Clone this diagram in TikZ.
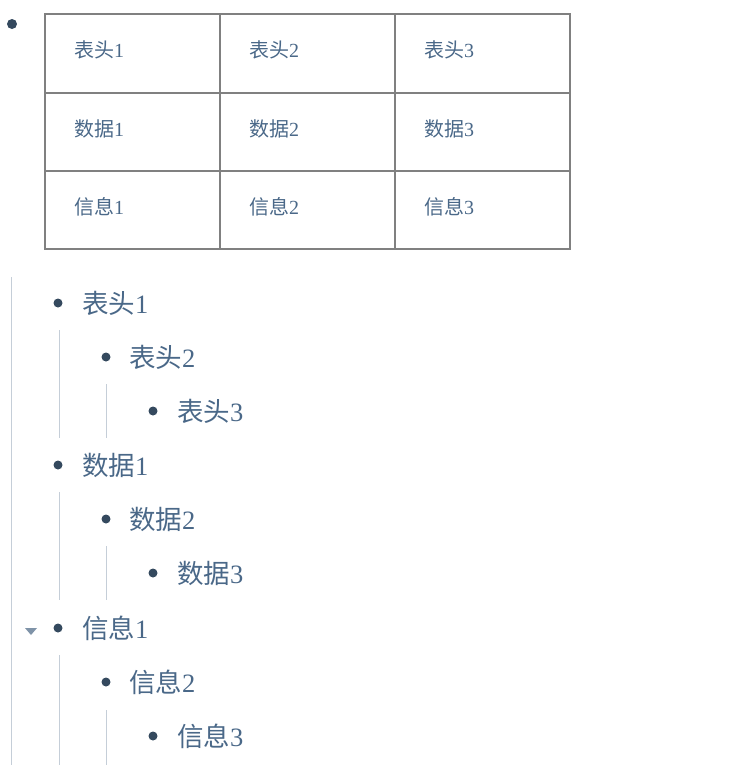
\documentclass[tikz,border=0pt]{standalone}
\usepackage{fontspec}
\newfontfamily\cjk{Noto Sans CJK SC}
\newfontfamily\numf{Liberation Serif}
\definecolor{txt}{HTML}{4A6888}
\definecolor{bul}{HTML}{34495E}
\definecolor{grid}{HTML}{808080}
\definecolor{guide}{HTML}{C5CED8}
\definecolor{tri}{HTML}{7F93A8}
\newcommand{\lbl}[2]{{\cjk #1}{\numf #2}}
\begin{document}
\begin{tikzpicture}[x=1pt,y=-1pt,
  celltext/.style={anchor=west,inner sep=0pt,text=txt,font=\fontsize{20}{22}\selectfont},
  listtext/.style={anchor=west,inner sep=0pt,text=txt,font=\fontsize{26.5}{30}\selectfont},
  bulletdot/.style={circle,fill=bul,inner sep=0pt,minimum size=9pt},
  guideline/.style={draw=guide,line width=1pt},
  gridline/.style={draw=grid,line width=1.6pt}]
\useasboundingbox (0,0) rectangle (736,772);
% top bullet
\node[bulletdot,minimum size=10pt] (b0) at (12,24) {};
% table
\coordinate (tl) at (45,14);
\coordinate (br) at (570,249);
\draw[gridline,line width=2pt] (tl) rectangle (br);
\draw[gridline] (220,14) -- (220,249);
\draw[gridline] (395,14) -- (395,249);
\draw[gridline,line width=1.3pt] (45,93) -- (570,93);
\draw[gridline,line width=1.3pt] (45,171) -- (570,171);
\node[celltext] (c11) at (74,50) {\lbl{表头}{1}};
\node[celltext] (c12) at (249,50) {\lbl{表头}{2}};
\node[celltext] (c13) at (424,50) {\lbl{表头}{3}};
\node[celltext] (c21) at (74,129) {\lbl{数据}{1}};
\node[celltext] (c22) at (249,129) {\lbl{数据}{2}};
\node[celltext] (c23) at (424,129) {\lbl{数据}{3}};
\node[celltext] (c31) at (74,207) {\lbl{信息}{1}};
\node[celltext] (c32) at (249,207) {\lbl{信息}{2}};
\node[celltext] (c33) at (424,207) {\lbl{信息}{3}};
% guide lines
\draw[guideline] (11,277) -- (11,765);
\draw[guideline] (59,330) -- (59,438);
\draw[guideline] (59,492) -- (59,600);
\draw[guideline] (59,655) -- (59,765);
\draw[guideline] (106,384) -- (106,438);
\draw[guideline] (106,546) -- (106,600);
\draw[guideline] (106,710) -- (106,765);
% list
\foreach \w/\y in {表头/303,数据/465,信息/628}{
  \node[bulletdot] at (58,\y) {};
  \node[listtext] at (82,\y) {\lbl{\w}{1}};
  \node[bulletdot] at (106,\y+54) {};
  \node[listtext] at (129,\y+54) {\lbl{\w}{2}};
  \node[bulletdot] at (153,\y+108) {};
  \node[listtext] at (177,\y+108) {\lbl{\w}{3}};
}
% collapse triangle
\fill[tri] (25,628) -- (37,628) -- (31,635) -- cycle;
\end{tikzpicture}
\end{document}
